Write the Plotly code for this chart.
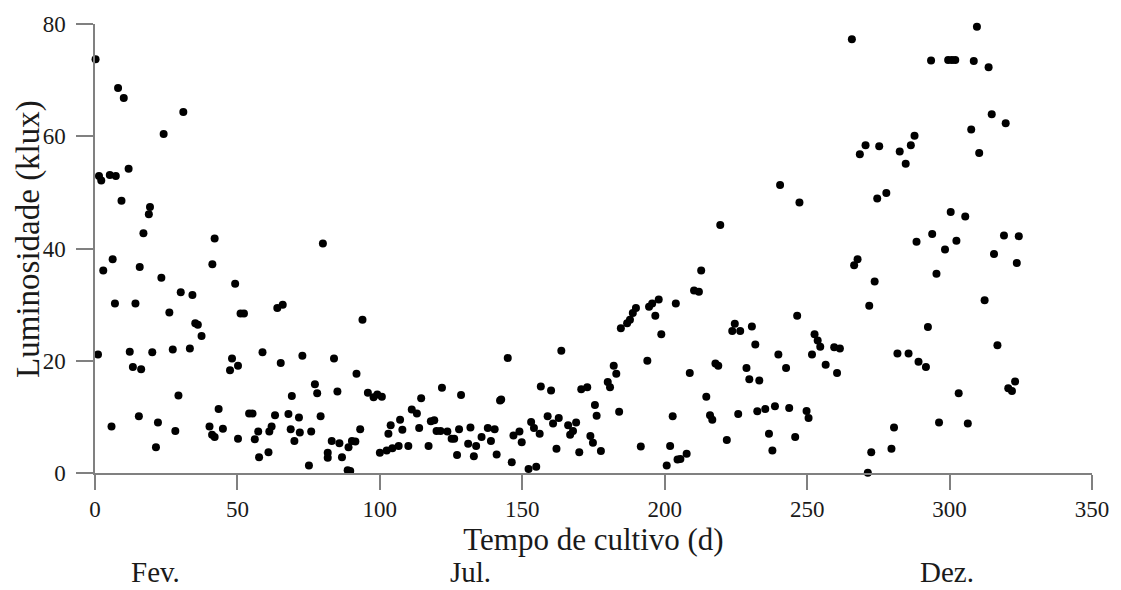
import plotly.graph_objects as go

# Tempo de cultivo (d)
x_days = [
    0.2, 1.05, 1.4, 2.2, 2.9, 5.2, 5.8, 6.2, 7.0, 7.3, 8.1, 9.3, 10.1, 11.8, 12.2, 13.3, 14.2, 15.4, 15.7, 16.2,
    17.0, 18.9, 19.3, 20.1, 21.4, 22.1, 23.3, 24.1, 26.1, 27.3, 28.2, 29.3, 30.1, 31.0, 33.3, 34.2, 35.2, 36.1,
    37.4, 40.2, 41.1, 41.2, 42.0, 42.0, 43.4, 44.9, 47.4, 48.1, 49.2, 50.2, 50.2, 51.1, 52.3, 54.1, 55.3, 56.1,
    57.3, 57.6,
    58.8, 60.9, 61.2, 62.0, 63.2, 64.0, 65.2, 65.9, 67.9, 68.7, 69.1, 70.0, 71.6, 71.9, 72.8, 75.1, 75.9, 77.2,
    78.0, 79.2, 80.0, 81.7, 81.7, 83.1, 83.9, 85.1, 85.8, 86.7, 88.7, 89.0, 89.6, 90.2, 91.4, 91.8, 93.1, 93.9,
    95.8, 97.8, 99.1, 100.0, 100.7, 102.4, 103.0, 103.8, 104.4, 106.6, 107.1, 107.9, 110.0, 111.2, 113.0, 113.8,
    114.5,
    117.1, 117.9, 119.1, 119.9, 121.3, 121.8, 123.7, 125.2, 126.1, 127.1, 127.8, 128.5, 131.0, 131.8, 133.0,
    133.8, 135.7, 137.9, 139.0, 140.3, 141.0, 142.2, 142.6, 144.9, 146.3, 146.9, 149.0, 149.8, 152.2, 153.1,
    154.1, 154.9, 156.1, 156.5, 158.9, 160.1, 160.8, 162.0, 162.8, 163.7, 166.1, 166.8, 167.8, 168.9, 170.0,
    170.7, 172.8, 173.9, 174.8, 175.5, 176.1,
    177.6, 180.0, 180.8, 182.1, 183.0, 184.0, 184.6, 186.8, 187.8, 188.8, 189.9, 191.6, 193.9, 194.5, 195.6,
    196.7, 197.9, 198.8, 200.7, 201.9, 202.8, 203.9, 204.5, 205.5, 207.7, 208.8, 210.3, 212.0, 212.8, 214.6,
    215.9, 216.7, 217.8, 218.8, 219.5, 221.8, 223.7, 224.6, 225.8, 226.5, 228.7, 229.7, 230.6, 231.8, 232.5,
    233.2, 235.3,
    236.6, 237.8, 238.7, 239.9, 240.5, 242.6, 243.7, 245.8, 246.5, 247.3, 249.8, 250.5, 251.7, 252.6, 253.7,
    254.6, 256.5, 259.5, 260.5, 261.5, 265.7, 266.5, 267.7, 268.5, 270.5, 271.3, 271.8, 272.5, 273.7, 274.6,
    275.3, 277.8, 279.6, 280.5, 281.7, 282.5, 284.6, 285.6, 286.4, 287.7, 288.4, 289.1, 291.7, 292.4, 293.5,
    293.9, 295.4,
    296.3, 298.4, 299.5, 300.4, 300.8, 302.0, 302.4, 303.2, 305.5, 306.4, 307.6, 308.5, 309.6, 310.4, 312.3,
    313.7, 314.8, 315.6, 316.8, 319.1, 319.7, 320.6, 321.9, 323.0, 323.6, 324.3,
]

# Luminosidade (klux)
lux = [
    73.7, 21.1, 52.9, 52.1, 36.1, 53.1, 8.3, 38.1, 30.2, 52.9, 68.6, 48.5, 66.8, 54.2, 21.6, 18.9, 30.2, 10.1, 36.7, 18.5,
    42.7, 46.1, 47.4, 21.5, 4.6, 9.0, 34.8, 60.4, 28.6, 22.0, 7.5, 13.8, 32.2, 64.3, 22.2, 31.7, 26.7, 26.4,
    24.4, 8.3, 6.8, 37.2, 6.4, 41.8, 11.4, 7.9, 18.3, 20.4, 33.7, 19.1, 6.1, 28.4, 28.4, 10.6, 10.6, 6.0,
    7.4, 2.8,
    21.5, 3.7, 7.4, 8.3, 10.3, 29.4, 19.6, 30.0, 10.5, 7.8, 13.7, 5.7, 9.9, 7.2, 20.9, 1.35, 7.4, 15.8,
    14.2, 10.1, 40.9, 3.6, 2.7, 5.7, 20.4, 14.5, 5.3, 2.8, 0.5, 4.6, 0.35, 5.7, 5.6, 17.7, 7.8, 27.3,
    14.3, 13.5, 14.0, 3.6, 13.6, 4.0, 7.0, 8.5, 4.4, 4.8, 9.5, 7.7, 4.8, 11.3, 10.6, 8.0,
    13.3,
    4.8, 9.2, 9.4, 7.5, 7.5, 15.2, 7.4, 6.1, 6.1, 3.2, 7.8, 13.9, 5.2, 8.1, 3.0,
    4.8, 6.4, 8.0, 5.7, 7.8, 3.3, 12.9, 13.1, 20.5, 1.9, 6.7, 7.4, 5.5, 0.7, 9.1,
    8.0, 1.1, 7.0, 15.4, 10.1, 14.7, 8.8, 4.3, 9.8, 21.8, 8.5, 6.8, 7.5, 9.0, 3.7,
    14.9, 15.3, 6.6, 5.4, 12.1, 10.2,
    3.9, 16.2, 15.3, 19.1, 17.7, 10.9, 25.8, 26.7, 27.3, 28.5, 29.4, 4.7, 20.0, 29.6, 30.2,
    28.0, 30.9, 24.7, 1.35, 4.8, 10.1, 30.2, 2.4, 2.5, 3.45, 17.8, 32.5, 32.3, 36.1, 13.6,
    10.3, 9.5, 19.5, 19.1, 44.2, 5.9, 25.3, 26.6, 10.5, 25.3, 18.7, 16.7, 26.1, 22.9, 11.0,
    16.5, 11.4,
    7.0, 4.0, 11.9, 21.1, 51.3, 18.7, 11.6, 6.4, 28.0, 48.2, 11.05, 9.8, 21.1, 24.7, 23.6,
    22.5, 19.3, 22.4, 17.8, 22.2, 77.3, 37.0, 38.1, 56.8, 58.4, 0.05, 29.8, 3.7, 34.1, 48.9,
    58.2, 49.9, 4.3, 8.1, 21.3, 57.3, 55.1, 21.3, 58.4, 60.1, 41.2, 19.8, 18.9, 26.0, 73.5,
    42.6, 35.5,
    9.0, 39.8, 73.6, 46.5, 73.6, 73.6, 41.4, 14.2, 45.7, 8.8, 61.2, 73.4, 79.5, 57.0, 30.8,
    72.3, 63.9, 39.0, 22.75, 42.3, 62.3, 15.1, 14.6, 16.3, 37.4, 42.2,
]

x_ticks = [0, 50, 100, 150, 200, 250, 300, 350]
y_ticks = [0, 20, 40, 60, 80]

month_labels = ["Fev.", "Jul.", "Dez."]
month_days = [21.1, 131.7, 299.2]

SERIF = "Liberation Serif"
TEXT = "#1a1a1a"
AXIS = "#808080"

fig = go.Figure()
fig.add_trace(go.Scatter(
    x=x_days, y=lux, mode="markers",
    marker=dict(color="black", size=8, line=dict(width=0)),
    cliponaxis=False, showlegend=False,
))

for lbl, d in zip(month_labels, month_days):
    fig.add_annotation(
        x=d, xref="x", y=-0.2215, yref="paper",
        text=lbl, showarrow=False, xanchor="center", yanchor="middle",
        font=dict(family=SERIF, size=29, color=TEXT),
    )

# y-axis title (placed as a rotated annotation to match the reference position)
fig.add_annotation(
    x=-0.0669, xref="paper", y=0.522, yref="paper",
    text="Luminosidade (klux)", textangle=-90, showarrow=False,
    xanchor="center", yanchor="middle",
    font=dict(family=SERIF, size=33, color=TEXT),
)

fig.update_layout(
    width=1121, height=590,
    margin=dict(l=95, r=25, t=17, b=117),
    plot_bgcolor="white", paper_bgcolor="white",
    font=dict(family=SERIF, color=TEXT),
    xaxis=dict(
        range=[0, 350], tickvals=x_ticks, ticktext=[str(v) for v in x_ticks],
        showgrid=False, zeroline=False,
        showline=True, linecolor=AXIS, linewidth=1.5,
        ticks="outside", ticklen=15, tickwidth=1.5, tickcolor=AXIS,
        tickfont=dict(family=SERIF, size=23, color=TEXT),
        ticklabelstandoff=0,
        automargin=True,
        title=dict(text="Tempo de cultivo (d)", font=dict(family=SERIF, size=31, color=TEXT), standoff=0),
    ),
    yaxis=dict(
        range=[0, 80], tickvals=y_ticks, ticktext=[str(v) for v in y_ticks],
        showgrid=False, zeroline=False,
        showline=True, linecolor=AXIS, linewidth=1.5,
        ticks="outside", ticklen=17, tickwidth=1.5, tickcolor=AXIS,
        tickfont=dict(family=SERIF, size=23, color=TEXT),
        ticklabelstandoff=6,
    ),
)

fig.write_html("out.html")
